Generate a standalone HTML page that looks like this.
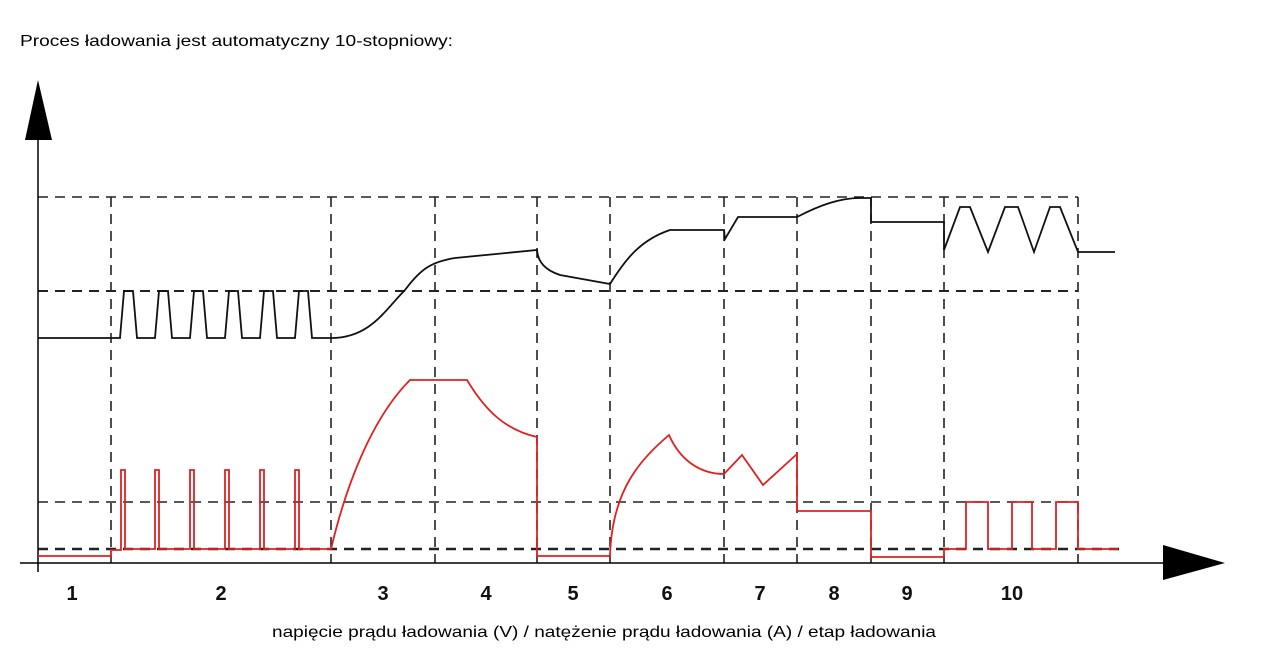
<!DOCTYPE html>
<html><head><style>
body{margin:0;background:#fff;width:1268px;height:652px;overflow:hidden;font-family:"Liberation Sans",sans-serif}
</style></head><body>
<svg width="1268" height="652" viewBox="0 0 1268 652" xmlns="http://www.w3.org/2000/svg">
<text x="20" y="46" font-size="16" textLength="433" lengthAdjust="spacingAndGlyphs" font-family="Liberation Sans, sans-serif" fill="#000">Proces ładowania jest automatyczny 10-stopniowy:</text>
<g stroke="#222" stroke-width="1.6" stroke-dasharray="10,7" fill="none">
<line x1="38" y1="197" x2="1078" y2="197"/>
<line x1="38" y1="291" x2="1078" y2="291" stroke-width="2"/>
<line x1="38" y1="502" x2="1078" y2="502"/>
<line x1="38" y1="549" x2="1120" y2="549" stroke-width="2.4"/>
<line x1="111" y1="197" x2="111" y2="563"/>
<line x1="331" y1="197" x2="331" y2="563"/>
<line x1="435" y1="197" x2="435" y2="563"/>
<line x1="537" y1="197" x2="537" y2="563"/>
<line x1="610" y1="197" x2="610" y2="563"/>
<line x1="724" y1="197" x2="724" y2="563"/>
<line x1="797" y1="197" x2="797" y2="563"/>
<line x1="871" y1="197" x2="871" y2="563"/>
<line x1="944" y1="197" x2="944" y2="563"/>
<line x1="1078" y1="197" x2="1078" y2="563"/>
</g>
<line x1="38" y1="130" x2="38" y2="572" stroke="#000" stroke-width="1.5"/>
<polygon points="38,80 25,140 52,140" fill="#000"/>
<line x1="20" y1="563" x2="1170" y2="563" stroke="#000" stroke-width="1.5"/>
<polygon points="1225,563 1163,545 1163,580" fill="#000"/>
<path d="M38,338 H120 L124,291 H133 L137,338 H155 L159,291 H168 L172,338 H190 L194,291 H203 L207,338 H225 L229,291 H238 L242,338 H260 L264,291 H273 L277,338 H295 L299,291 H308 L312,338 H331 C370,338 385,310 405,290 C420,270 430,262 455,258 L537,250 C538,262 545,270 560,275 L610,284 C625,260 640,240 670,230 H724 L725,239 L738,217 H797 C820,205 840,198 860,198 H871 V222 H944 V250 L960,207 H970 L988,252 L1005,207 L1018,207 L1034,252 L1050,207 H1060 L1078,252 H1115" fill="none" stroke="#111" stroke-width="1.8"/>
<path d="M38,556 H111 V550 H121 V470 H125 V549 H155 V470 H159 V549 H190 V470 H194 V549 H225 V470 H229 V549 H260 V470 H264 V549 H295 V470 H299 V549 H331 C345,490 370,420 410,380 H467 C485,410 505,430 537,437 V556 H610 C612,490 640,460 669,435 C680,460 700,474 724,474 L742,455 L763,485 L797,454 V511 H871 V557 H944 V549 H966 V502 H988 V549 H1012 V502 H1032 V549 H1056 V502 H1078 V549 H1118" fill="none" stroke="#e02020" stroke-width="1.8"/>
<g font-size="20" font-weight="bold" font-family="Liberation Sans, sans-serif" text-anchor="middle" fill="#111">
<text x="72" y="600">1</text><text x="221" y="600">2</text><text x="383" y="600">3</text><text x="486" y="600">4</text><text x="573" y="600">5</text><text x="667" y="600">6</text><text x="760" y="600">7</text><text x="834" y="600">8</text><text x="907" y="600">9</text><text x="1012" y="600">10</text>
</g>
<text x="272" y="637" font-size="16" textLength="664" lengthAdjust="spacingAndGlyphs" font-family="Liberation Sans, sans-serif" fill="#000">napięcie prądu ładowania (V) / natężenie prądu ładowania (A) / etap ładowania</text>
</svg>
</body></html>
